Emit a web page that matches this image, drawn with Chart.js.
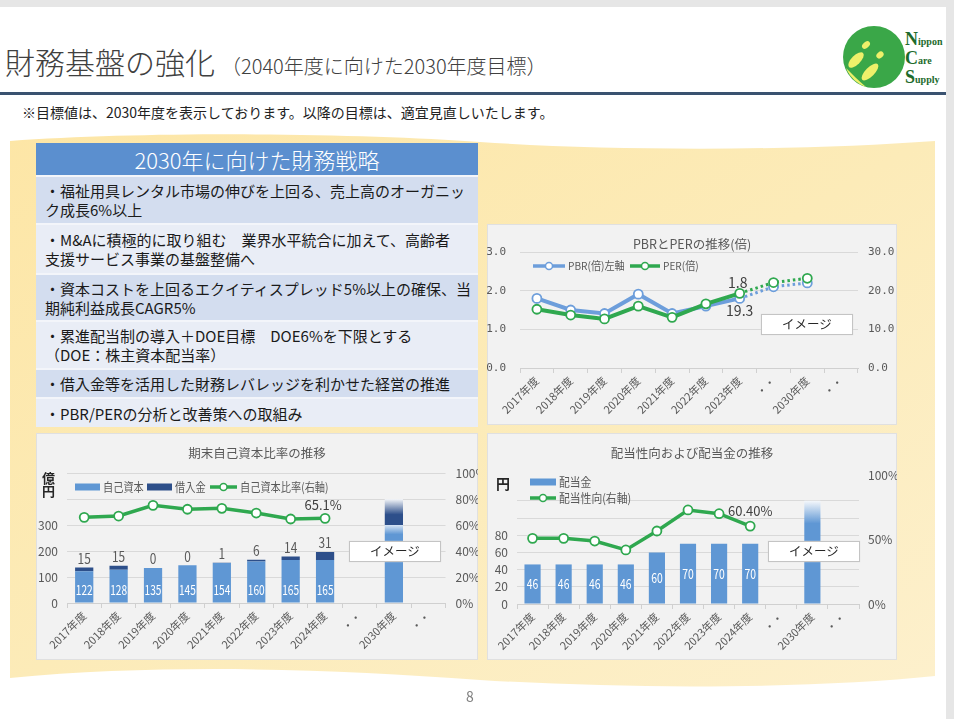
<!DOCTYPE html>
<html lang="ja"><head><meta charset="utf-8">
<script src="https://cdn.jsdelivr.net/npm/chart.js@4.4.0/dist/chart.umd.min.js"></script>
<style>
html,body{margin:0;padding:0;}
body{width:954px;height:719px;position:relative;overflow:hidden;background:#fff;font-family:"Noto Sans CJK JP","Noto Sans",sans-serif;color:#404040;}
.abs{position:absolute;}
#topbar{left:0;top:0;width:954px;height:7px;background:#e6e6e6;}
#rightbar{left:946px;top:0;width:8px;height:719px;background:#e6e6e6;}
#title{left:5px;top:41px;font-size:30px;line-height:40px;white-space:nowrap;color:#404040;font-weight:300;}
#title span{font-size:20px;margin-left:6px;}
#rule{left:0;top:92px;width:946px;height:3px;background:#3a5270;}
#note{left:22px;top:102px;font-size:14px;line-height:20px;white-space:nowrap;color:#222;}
#strategy{left:36px;top:143px;width:442px;}
#strategy .hd{height:32px;line-height:32px;background:#5b8fcf;color:#fff;text-align:center;font-size:22px;font-weight:300;}
#strategy .row{box-sizing:border-box;border-top:2px solid #f3f5fa;padding-left:9px;font-size:15px;line-height:19px;white-space:nowrap;color:#1a1a1a;display:flex;align-items:center;}
#strategy .d{background:#d3ddef;}
#strategy .l{background:#e9edf6;}
.panel{background:#f2f2f2;border:1px solid #e0e0e0;box-sizing:border-box;}
.ctitle{font-size:12.5px;color:#595959;text-align:center;white-space:nowrap;}
.img{background:#fff;border:1.5px solid #c4c4c4;box-sizing:border-box;font-size:12.5px;text-align:center;color:#262626;box-shadow:0 0 1px #ddd;}
canvas{position:absolute;}
</style></head>
<body>
<div id="topbar" class="abs"></div>
<div id="rightbar" class="abs"></div>

<svg class="abs" style="left:0;top:0" width="954" height="719">
  <defs>
    <linearGradient id="yel" x1="0" y1="0" x2="1" y2="1">
      <stop offset="0" stop-color="#fde6a6"/>
      <stop offset="0.5" stop-color="#fcebb8"/>
      <stop offset="1" stop-color="#fdf0cc"/>
    </linearGradient>
  </defs>
  <path d="M10,141 C150,131 360,133 480,142 C610,151 800,151 935,141 L935,676 C820,688 640,690 480,680 C320,668 160,664 10,678 Z" fill="url(#yel)"/>
  <!-- logo -->
  <circle cx="874" cy="57" r="31" fill="#3aa748"/>
  <ellipse cx="866" cy="45" rx="4.5" ry="3" fill="#eef06a" transform="rotate(-40 866 45)"/>
  <ellipse cx="856" cy="60" rx="10" ry="4.5" fill="#eef06a" transform="rotate(-45 856 60)"/>
  <ellipse cx="880" cy="55" rx="4" ry="3" fill="#eef06a" transform="rotate(-40 880 55)"/>
  <ellipse cx="870" cy="72" rx="11" ry="4.5" fill="#eef06a" transform="rotate(-45 870 72)"/>
  <path d="M846,68 C850,78 858,84 866,87 C858,80 852,74 846,68 Z" fill="#eef06a"/>
  <g fill="#1d6b2c" font-family="Liberation Serif, serif" font-weight="bold">
    <text x="905" y="45" font-size="18">N<tspan font-size="10">ippon</tspan></text>
    <text x="905" y="64" font-size="18">C<tspan font-size="10">are</tspan></text>
    <text x="905" y="83" font-size="18">S<tspan font-size="10">upply</tspan></text>
  </g>
</svg>

<div id="title" class="abs">財務基盤の強化<span>（2040年度に向けた2030年度目標）</span></div>
<div id="rule" class="abs"></div>
<div id="note" class="abs">※目標値は、2030年度を表示しております。以降の目標は、適宜見直しいたします。</div>

<div id="strategy" class="abs">
  <div class="hd">2030年に向けた財務戦略</div>
  <div class="row d" style="height:48px">・福祉用具レンタル市場の伸びを上回る、売上高のオーガニッ<br>ク成長6%以上</div>
  <div class="row l" style="height:50px">・M&amp;Aに積極的に取り組む　業界水平統合に加えて、高齢者<br>支援サービス事業の基盤整備へ</div>
  <div class="row d" style="height:47px">・資本コストを上回るエクイティスプレッド5%以上の確保、当<br>期純利益成長CAGR5%</div>
  <div class="row l" style="height:48px">・累進配当制の導入＋DOE目標　DOE6%を下限とする<br>（DOE：株主資本配当率）</div>
  <div class="row d" style="height:29px">・借入金等を活用した財務レバレッジを利かせた経営の推進</div>
  <div class="row l" style="height:30px">・PBR/PERの分析と改善策への取組み</div>
</div>

<div class="abs panel" style="left:487px;top:224px;width:410px;height:201px"></div>
<div class="abs panel" style="left:36px;top:433px;width:442px;height:227px"></div>
<div class="abs panel" style="left:487px;top:433px;width:410px;height:227px"></div>

<canvas id="c1" width="410" height="201" style="left:487px;top:224px"></canvas>
<canvas id="c2" width="442" height="227" style="left:36px;top:433px"></canvas>
<canvas id="c3" width="410" height="227" style="left:487px;top:433px"></canvas>

<div class="abs ctitle" style="left:592px;top:234px;width:200px">PBRとPERの推移(倍)</div>
<div class="abs ctitle" style="left:147px;top:443px;width:220px">期末自己資本比率の推移</div>
<div class="abs ctitle" style="left:582px;top:443px;width:220px">配当性向および配当金の推移</div>

<div class="abs" style="left:42px;top:471px;font-size:13px;line-height:13px;font-weight:bold;color:#262626">億<br>円</div>
<div class="abs" style="left:496px;top:475px;font-size:14px;line-height:16px;font-weight:bold;color:#262626">円</div>

<div class="abs img" style="left:761px;top:314px;width:92px;height:21px;line-height:18px">イメージ</div>
<div class="abs img" style="left:349px;top:541px;width:92px;height:21px;line-height:18px">イメージ</div>
<div class="abs img" style="left:768px;top:541px;width:92px;height:21px;line-height:18px">イメージ</div>

<div class="abs" style="left:466px;top:686px;font-size:14px;color:#808080">8</div>

<script>
// ---------- data ----------
const pbrCategories = ['2017年度','2018年度','2019年度','2020年度','2021年度','2022年度','2023年度','・・','2030年度','・・'];
const pbrValues = [1.80, 1.50, 1.41, 1.91, 1.41, 1.60, 1.80, 2.10, 2.20, null];
const perValues = [15.2, 13.7, 12.7, 16.0, 13.1, 16.6, 19.3, 22.1, 23.2, null];

const yearCategories = ['2017年度','2018年度','2019年度','2020年度','2021年度','2022年度','2023年度','2024年度','・・','2030年度','・・'];
const equityValues = [122, 128, 135, 145, 154, 160, 165, 165, null, 300, null];
const borrowingValues = [15, 15, 0, 0, 1, 6, 14, 31, null, 100, null];
const equityRatioValues = [65.9, 66.9, 75.1, 72.1, 72.8, 69.2, 64.6, 65.1, null, null, null];

const dividendValues = [46, 46, 46, 46, 60, 70, 70, 70, null, 120, null];
const payoutRatioValues = [50.9, 50.9, 48.8, 41.9, 56.6, 72.9, 70.0, 60.4, null, null, null];

// ---------- styles ----------
const FONT = '"Noto Sans CJK JP","Noto Sans",sans-serif';
const BLUE = '#5f97d4', DARK = '#2d4f8a', GREEN = '#2fa84f', PBR_BLUE = '#6d9edb';
const GRID = '#d9d9d9', AXIS = '#d0d0d0', TXT = '#595959';
const actualIdx = [0,1,2,3,4,5,6,7];
Chart.defaults.font.family = FONT;
Chart.defaults.color = TXT;
Chart.defaults.animation = false;

const labelPlugin = {
  id: 'valueLabels',
  afterDatasetsDraw(chart) {
    const ctx = chart.ctx;
    chart.data.datasets.forEach((ds, i) => {
      const cfg = ds.valueLabel; if (!cfg) return;
      const meta = chart.getDatasetMeta(i);
      meta.data.forEach((el, j) => {
        const v = ds.data[j];
        if (v == null || !cfg.only.includes(j)) return;
        let y;
        if (cfg.mode === 'base') y = el.base + cfg.dy;
        else if (cfg.mode === 'center') y = (el.y + el.base) / 2 + (cfg.dy || 0);
        else y = el.y + cfg.dy;
        const sx = cfg.sx || 1;
        ctx.save();
        ctx.translate(el.x + (cfg.dx || 0), y);
        ctx.scale(sx, 1);
        ctx.font = (cfg.size || 13) + 'px ' + FONT;
        ctx.fillStyle = cfg.color || '#404040';
        ctx.textAlign = 'center'; ctx.textBaseline = 'middle';
        ctx.fillText(cfg.format(v), 0, 0);
        ctx.restore();
      });
    });
  }
};

const legendPlugin = {
  id: 'customLegend',
  afterDraw(chart, args, opts) {
    const ctx = chart.ctx;
    (opts.items || []).forEach(it => {
      const ds = chart.data.datasets[it.dataset];
      const w = it.w || 26;
      ctx.save();
      if (it.kind === 'bar') {
        ctx.fillStyle = ds.legendColor;
        ctx.fillRect(it.x, it.y - 3.5, w, 7);
      } else {
        ctx.strokeStyle = ds.borderColor; ctx.lineWidth = 3.5;
        ctx.beginPath(); ctx.moveTo(it.x, it.y); ctx.lineTo(it.x + w, it.y); ctx.stroke();
        ctx.beginPath(); ctx.arc(it.x + w / 2, it.y, 3.5, 0, Math.PI * 2);
        ctx.fillStyle = '#fff'; ctx.fill(); ctx.lineWidth = 1.5; ctx.stroke();
      }
      ctx.translate(it.x + w + 3, it.y);
      ctx.scale(opts.sx || 1, 1);
      ctx.font = (opts.size || 11.5) + 'px ' + FONT;
      ctx.fillStyle = TXT; ctx.textBaseline = 'middle'; ctx.textAlign = 'left';
      ctx.fillText(ds.label, 0, 0);
      ctx.restore();
    });
  }
};

function xAxis(h) {
  return {
    offset: true, stacked: true,
    grid: { offset: true, drawOnChartArea: false, color: AXIS, tickLength: 5 },
    border: { color: AXIS },
    ticks: { autoSkip: false, minRotation: 45, maxRotation: 45, font: { size: 11 }, padding: 1, color: TXT },
    afterFit: s => { s.height = h; }
  };
}

// gradient helper for target-year bars
function fadeBar(chart, from, to, stops) {
  const s = chart.scales && chart.scales.y;
  if (!s || !chart.chartArea) return stops[0][1];
  const g = chart.ctx.createLinearGradient(0, s.getPixelForValue(from), 0, s.getPixelForValue(to));
  stops.forEach(st => g.addColorStop(st[0], st[1]));
  return g;
}

// ---------- chart 1: PBR / PER ----------
const dotted = s => s.p0DataIndex >= 6 ? [2.5, 3] : undefined;
const dottedW = s => s.p0DataIndex >= 6 ? 3 : undefined;
new Chart(document.getElementById('c1'), {
  type: 'line',
  data: {
    labels: pbrCategories,
    datasets: [
      { label: 'PBR(倍)左軸', data: pbrValues, yAxisID: 'y', borderColor: PBR_BLUE, borderWidth: 4,
        pointRadius: 4.5, pointBorderWidth: 1.8, pointBackgroundColor: '#fff', pointBorderColor: PBR_BLUE,
        segment: { borderDash: dotted, borderWidth: dottedW }, order: 1,
        valueLabel: { only: [6], dy: -16, dx: -2, size: 14, color: '#404040', format: v => v.toFixed(1) } },
      { label: 'PER(倍)', data: perValues, yAxisID: 'y1', borderColor: GREEN, borderWidth: 4,
        pointRadius: 4.5, pointBorderWidth: 1.8, pointBackgroundColor: '#fff', pointBorderColor: GREEN,
        segment: { borderDash: dotted, borderWidth: dottedW }, order: 0,
        valueLabel: { only: [6], dy: 17, size: 14, color: '#404040', format: v => v.toFixed(1) } }
    ]
  },
  options: {
    responsive: false, animation: false,
    layout: { padding: { top: 28, left: 0, right: 0, bottom: 0 } },
    plugins: { legend: { display: false }, tooltip: { enabled: false },
      customLegend: { size: 11, sx: 0.92, items: [ { dataset: 0, kind: 'line', x: 46, y: 42, w: 32 }, { dataset: 1, kind: 'line', x: 143, y: 42, w: 30 } ] } },
    scales: {
      x: xAxis(57),
      y: { min: 0, max: 3, ticks: { stepSize: 1, callback: v => v.toFixed(1), font: { family: 'DejaVu Sans Mono', size: 11 }, padding: 14 },
           grid: { color: GRID, drawTicks: false }, border: { display: false }, afterFit: s => { s.width = 33; } },
      y1: { position: 'right', min: 0, max: 30, ticks: { stepSize: 10, callback: v => v.toFixed(1), font: { family: 'DejaVu Sans Mono', size: 11 }, padding: 10 },
           grid: { drawOnChartArea: false, drawTicks: false }, border: { display: false }, afterFit: s => { s.width = 39; } }
    }
  },
  plugins: [labelPlugin, legendPlugin]
});

// ---------- chart 2: equity ratio ----------
new Chart(document.getElementById('c2'), {
  type: 'bar',
  data: {
    labels: yearCategories,
    datasets: [
      { type: 'line', label: '自己資本比率(右軸)', data: equityRatioValues, yAxisID: 'y1', borderColor: GREEN, borderWidth: 3.5,
        pointRadius: 4.5, pointBorderWidth: 1.8, pointBackgroundColor: '#fff', pointBorderColor: GREEN, order: 0,
        valueLabel: { only: [7], dy: -13, dx: -2, size: 13, color: '#404040', format: v => v.toFixed(1) + '%' } },
      { label: '自己資本', data: equityValues, yAxisID: 'y', stack: 's', order: 1, legendColor: BLUE,
        backgroundColor: c => c.dataIndex === 9 ? fadeBar(c.chart, 0, 300, [[0, BLUE], [0.88, BLUE], [1, '#d6e4f4']]) : BLUE,
        barPercentage: 0.53, categoryPercentage: 1,
        valueLabel: { only: actualIdx, mode: 'base', dy: -12.5, size: 13, sx: 0.78, color: '#ffffff', format: v => String(v) } },
      { label: '借入金', data: borrowingValues, yAxisID: 'y', stack: 's', order: 2, legendColor: DARK,
        backgroundColor: c => c.dataIndex === 9 ? fadeBar(c.chart, 300, 400, [[0, DARK], [0.4, DARK], [1, '#f4f6f9']]) : DARK,
        barPercentage: 0.53, categoryPercentage: 1,
        valueLabel: { only: actualIdx, mode: 'top', dy: -9, size: 14, sx: 0.85, color: TXT, format: v => String(v) } }
    ]
  },
  options: {
    responsive: false, animation: false,
    layout: { padding: { top: 40, left: 0, right: 0, bottom: 0 } },
    plugins: { legend: { display: false }, tooltip: { enabled: false },
      customLegend: { size: 12, sx: 0.85, items: [ { dataset: 1, kind: 'bar', x: 39, y: 54, w: 25 }, { dataset: 2, kind: 'bar', x: 111, y: 54, w: 25 }, { dataset: 0, kind: 'line', x: 174, y: 54, w: 27 } ] } },
    scales: {
      x: xAxis(57),
      y: { stacked: true, min: 0, max: 500, ticks: { stepSize: 100, callback: v => v <= 300 ? v : '', font: { size: 12 }, padding: 9 },
           grid: { color: GRID, drawTicks: false }, border: { display: false }, afterFit: s => { s.width = 31; } },
      y1: { position: 'right', min: 0, max: 100, ticks: { stepSize: 20, callback: v => v + '%', font: { size: 12 }, padding: 10 },
           grid: { drawOnChartArea: false, drawTicks: false }, border: { display: false }, afterFit: s => { s.width = 32.5; } }
    }
  },
  plugins: [labelPlugin, legendPlugin]
});

// ---------- chart 3: dividends ----------
new Chart(document.getElementById('c3'), {
  type: 'bar',
  data: {
    labels: yearCategories,
    datasets: [
      { type: 'line', label: '配当性向(右軸)', data: payoutRatioValues, yAxisID: 'y1', borderColor: GREEN, borderWidth: 3.5,
        pointRadius: 4.5, pointBorderWidth: 1.8, pointBackgroundColor: '#fff', pointBorderColor: GREEN, order: 0,
        valueLabel: { only: [7], dy: -15, size: 13, color: '#404040', format: v => v.toFixed(2) + '%' } },
      { label: '配当金', data: dividendValues, yAxisID: 'y', order: 1, legendColor: BLUE,
        backgroundColor: c => c.dataIndex === 9 ? fadeBar(c.chart, 0, 120, [[0, BLUE], [0.78, BLUE], [1, '#f4f7fb']]) : BLUE,
        barPercentage: 0.52, categoryPercentage: 1,
        valueLabel: { only: actualIdx, mode: 'center', dy: 0, size: 13, sx: 0.8, color: '#ffffff', format: v => String(v) } }
    ]
  },
  options: {
    responsive: false, animation: false,
    layout: { padding: { top: 42, left: 0, right: 0, bottom: 0 } },
    plugins: { legend: { display: false }, tooltip: { enabled: false },
      customLegend: { size: 12, sx: 0.9, items: [ { dataset: 1, kind: 'bar', x: 43, y: 49, w: 26 }, { dataset: 0, kind: 'line', x: 43, y: 65, w: 26 } ] } },
    scales: {
      x: xAxis(56),
      y: { min: 0, max: 150, ticks: { stepSize: 20, callback: v => v <= 80 ? v : '', font: { size: 12 }, padding: 9 },
           grid: { color: c => (c.tick && c.tick.value > 140) ? 'rgba(0,0,0,0)' : GRID, drawTicks: false }, border: { display: false }, afterFit: s => { s.width = 30; } },
      y1: { position: 'right', min: 0, max: 100, ticks: { stepSize: 50, callback: v => v + '%', font: { size: 12 }, padding: 9 },
           grid: { drawOnChartArea: false, drawTicks: false }, border: { display: false }, afterFit: s => { s.width = 38; } }
    }
  },
  plugins: [labelPlugin, legendPlugin]
});
</script>
</body></html>
